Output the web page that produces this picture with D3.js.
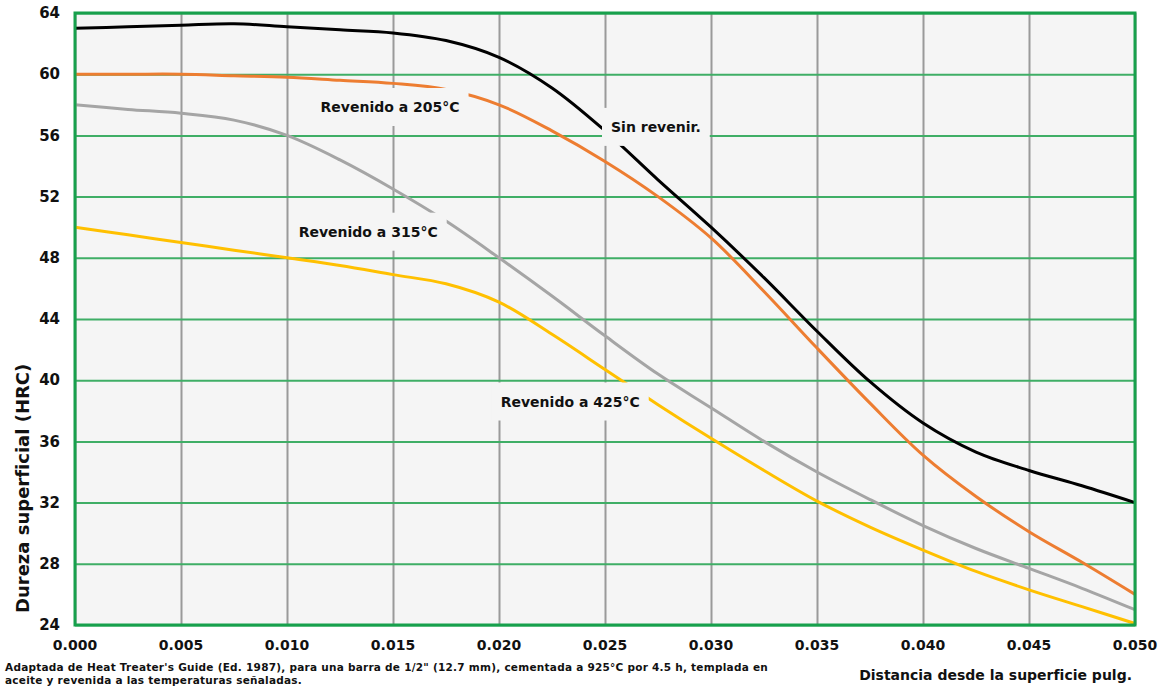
<!DOCTYPE html>
<html lang="es">
<head>
    <meta charset="UTF-8">
    <title>Dureza superficial vs distancia</title>
    <script src="https://cdn.jsdelivr.net/npm/d3@7"></script>
    <style>
        body { margin: 0; background: #fff; }
        text { font-family: "DejaVu Sans", Verdana, sans-serif; font-weight: bold; fill: #111; }
    </style>
</head>
<body>
    <svg width="1161" height="688"></svg>
    <script>
        // distance from surface (in)
        var distances = [0, 0.0025, 0.005, 0.0075, 0.010, 0.0125, 0.015, 0.0175, 0.020, 0.0225, 0.025,
                         0.0275, 0.030, 0.0325, 0.035, 0.0375, 0.040, 0.0425, 0.045, 0.0475, 0.050];

        // hardness HRC per condition
        var sinRevenir = [63.0, 63.1, 63.2, 63.3, 63.1, 62.9, 62.7, 62.2, 61.1, 59.1, 56.3,
                          53.1, 50.0, 46.7, 43.2, 39.9, 37.2, 35.3, 34.1, 33.1, 32.0];
        var rev205 = [60.0, 60.0, 60.0, 59.9, 59.8, 59.6, 59.4, 59.0, 58.0, 56.3, 54.3,
                      52.0, 49.3, 45.8, 42.1, 38.5, 35.1, 32.4, 30.1, 28.1, 26.0];
        var rev315 = [58.0, 57.7, 57.45, 57.0, 56.0, 54.4, 52.5, 50.4, 48.0, 45.5, 42.9,
                      40.4, 38.2, 36.0, 34.0, 32.2, 30.5, 29.0, 27.7, 26.4, 25.0];
        var rev425 = [50.0, 49.5, 49.0, 48.5, 48.0, 47.5, 46.9, 46.3, 45.1, 43.0, 40.7,
                      38.4, 36.2, 34.1, 32.1, 30.4, 28.9, 27.5, 26.3, 25.2, 24.1];

        var xTicks = [0, 0.005, 0.010, 0.015, 0.020, 0.025, 0.030, 0.035, 0.040, 0.045, 0.050];
        var yTicks = [24, 28, 32, 36, 40, 44, 48, 52, 56, 60, 64];

        var series = [
            {name: "Revenido a 425°C", values: rev425, color: "#ffc000"},
            {name: "Revenido a 315°C", values: rev315, color: "#a5a5a5"},
            {name: "Revenido a 205°C", values: rev205, color: "#ed7d31"},
            {name: "Sin revenir.", values: sinRevenir, color: "#000000"}
        ];

        // curve labels (x, y in data units)
        var labels = [
            {text: "Revenido a 205°C", x: 0.01486, y: 57.85},
            {text: "Sin revenir.", x: 0.0274, y: 56.55},
            {text: "Revenido a 315°C", x: 0.01383, y: 49.7},
            {text: "Revenido a 425°C", x: 0.02336, y: 38.6}
        ];

        var svg = d3.select("svg"),
            margin = {top: 13, right: 26, bottom: 63, left: 75},
            width = 1161 - margin.left - margin.right,
            height = 688 - margin.top - margin.bottom,
            g = svg.append("g").attr("transform", "translate(" + margin.left + "," + margin.top + ")");

        var x = d3.scaleLinear().domain([0, 0.05]).range([0, width]);
        var y = d3.scaleLinear().domain([24, 64]).range([height, 0]);

        // plot background
        g.append("rect")
            .attr("width", width)
            .attr("height", height)
            .attr("fill", "#f5f5f5");

        // vertical grid (gray)
        g.append("g")
            .attr("transform", "translate(0," + height + ")")
            .call(d3.axisBottom(x).tickValues(xTicks).tickSize(-height).tickFormat(""))
            .call(function(s) {
                s.select(".domain").remove();
                s.selectAll("line").attr("stroke", "#9a9a9a").attr("stroke-width", 2);
            });

        // horizontal grid (green)
        g.append("g")
            .call(d3.axisLeft(y).tickValues(yTicks).tickSize(-width).tickFormat(""))
            .call(function(s) {
                s.select(".domain").remove();
                s.selectAll("line").attr("stroke", "#3fae66").attr("stroke-width", 2);
            });

        var line = d3.line()
            .x(function(d, i) { return x(distances[i]); })
            .y(function(d) { return y(d); })
            .curve(d3.curveCatmullRom.alpha(0.5));

        g.selectAll(".serie")
            .data(series)
            .enter()
            .append("path")
            .attr("class", "serie")
            .attr("d", function(d) { return line(d.values); })
            .attr("fill", "none")
            .attr("stroke", function(d) { return d.color; })
            .attr("stroke-width", 3);

        // labels with background boxes that cover the lines
        var lab = g.selectAll(".lab")
            .data(labels)
            .enter()
            .append("g")
            .attr("class", "lab");

        var boxes = lab.append("rect").attr("fill", "#f5f5f5");

        lab.append("text")
            .attr("x", function(d) { return x(d.x); })
            .attr("y", function(d) { return y(d.y); })
            .attr("dy", "0.35em")
            .attr("text-anchor", "middle")
            .style("font-size", "14px")
            .text(function(d) { return d.text; });

        boxes.each(function() {
            var bb = this.parentNode.querySelector("text").getBBox();
            d3.select(this)
                .attr("x", bb.x - 9)
                .attr("y", bb.y + bb.height / 2 - 19)
                .attr("width", bb.width + 18)
                .attr("height", 38);
        });

        // border
        g.append("rect")
            .attr("width", width)
            .attr("height", height)
            .attr("fill", "none")
            .attr("stroke", "#17a04c")
            .attr("stroke-width", 3);

        // axis tick labels
        g.selectAll(".xlab")
            .data(xTicks)
            .enter()
            .append("text")
            .attr("x", function(d) { return x(d); })
            .attr("y", height + 25)
            .attr("text-anchor", "middle")
            .style("font-size", "14px")
            .text(function(d) { return d3.format(".3f")(d); });

        g.selectAll(".ylab")
            .data(yTicks)
            .enter()
            .append("text")
            .attr("x", -15)
            .attr("y", function(d) { return y(d); })
            .attr("dy", "0.35em")
            .attr("text-anchor", "end")
            .style("font-size", "15px")
            .text(function(d) { return d; });

        // axis titles
        svg.append("text")
            .attr("transform", "translate(29,613) rotate(-90)")
            .attr("text-anchor", "start")
            .style("font-size", "18px")
            .text("Dureza superficial (HRC)");

        svg.append("text")
            .attr("x", 1132)
            .attr("y", 680)
            .attr("text-anchor", "end")
            .style("font-size", "14px")
            .text("Distancia desde la superficie pulg.");

        // source note
        var note = svg.append("text")
            .attr("x", 5)
            .attr("y", 671)
            .style("font-size", "10.5px")
            .style("letter-spacing", "0.25px");
        note.append("tspan")
            .text("Adaptada de Heat Treater's Guide (Ed. 1987), para una barra de 1/2\" (12.7 mm), cementada a 925°C por 4.5 h, templada en");
        note.append("tspan")
            .attr("x", 5)
            .attr("dy", 13)
            .text("aceite y revenida a las temperaturas señaladas.");
    </script>
</body>
</html>
